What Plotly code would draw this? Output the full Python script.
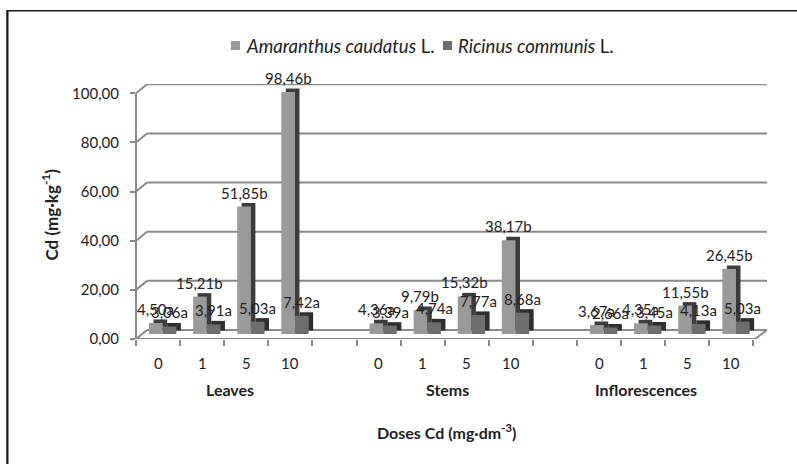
import plotly.graph_objects as go

# ---------------- data ----------------
groups = ["Leaves", "Stems", "Inflorescences"]
doses = ["0", "1", "5", "10"]
amaranthus = [4.50, 15.21, 51.85, 98.46, 4.36, 9.79, 15.32, 38.17, 3.67, 4.35, 11.55, 26.45]
amaranthus_letters = ["a", "b", "b", "b", "a", "b", "b", "b", "a", "a", "b", "b"]
ricinus = [3.06, 3.91, 5.03, 7.42, 3.39, 4.74, 7.77, 8.68, 2.66, 3.45, 4.13, 5.03]
ricinus_letters = ["a"] * 12
y_ticks = [0, 20, 40, 60, 80, 100]

# ---------------- layout geometry ----------------
W_FIG, H_FIG = 797, 464
PL, PT = 136, 84          # plot area left / top (px)
PW, PH = 631, 255         # plot area width / height (px)
SLOT_PX = 44.1
PX_PER_UNIT = 2.457
X_MIN = -0.5
X_MAX = X_MIN + PW / SLOT_PX
Y_MAX = PH / PX_PER_UNIT
DEPTH_X = 11 / PW                  # back wall offset (paper)
DEPTH_Y = 9 / PX_PER_UNIT          # back wall offset (data)
BASE = 5 / PX_PER_UNIT             # bars sit mid-depth on the floor
BAR_W = 0.31
SH_DX = 4.5 / SLOT_PX
SH_DY = 3.5 / PX_PER_UNIT

GRID = "#8a8a8a"
TXT = "#222222"
FONT = "Lato"


def pxx(px):
    return (px - PL) / PW


def pxy(py):
    return (PT + PH - py) / PH


def fmt(v):
    return f"{v:.2f}".replace(".", ",")


slots = [g * 5 + i for g in range(len(groups)) for i in range(len(doses))]

series = [
    dict(name="Amaranthus caudatus", vals=amaranthus, letters=amaranthus_letters,
         off=-0.205, front="#9a9a9a", side="#3c3c3c"),
    dict(name="Ricinus communis", vals=ricinus, letters=ricinus_letters,
         off=0.105, front="#6e6e6e", side="#2e2e2e"),
]

fig = go.Figure()
annotations = []
for s in series:
    fig.add_trace(go.Bar(
        x=slots, y=s["vals"], base=BASE + SH_DY, offset=s["off"] + SH_DX, width=BAR_W,
        marker=dict(color=s["side"], line=dict(width=0)), showlegend=False, hoverinfo="skip"))
    fig.add_trace(go.Bar(
        x=slots, y=s["vals"], base=BASE, offset=s["off"], width=BAR_W,
        marker=dict(color=s["front"], line=dict(width=0)), name=s["name"], showlegend=False))
    for xs, v, l in zip(slots, s["vals"], s["letters"]):
        annotations.append(dict(
            x=xs + s["off"] + BAR_W / 2, y=BASE + v, xref="x", yref="y",
            text=fmt(v) + l, showarrow=False, yanchor="bottom", yshift=3,
            font=dict(family=FONT, size=15, color=TXT)))

# dose tick labels and group labels
for xs, d in zip(slots, doses * len(groups)):
    annotations.append(dict(x=xs, y=pxy(363), xref="x", yref="paper", text=d,
                            showarrow=False, yanchor="middle",
                            font=dict(family=FONT, size=15, color=TXT)))
group_label_px = [204, 447, 699]
for gx, g in zip(group_label_px, groups):
    annotations.append(dict(x=pxx(gx), y=pxy(389), xref="paper", yref="paper",
                            text=f"<b>{g}</b>", showarrow=False, yanchor="middle",
                            font=dict(family=FONT, size=16, color=TXT)))

# axis titles
annotations.append(dict(x=pxx(446), y=pxy(434), xref="paper", yref="paper", yshift=-10,
                        text="<b>Doses Cd (mg·dm<sup>-3</sup>)</b>", showarrow=False,
                        font=dict(family=FONT, size=16, color=TXT)))
annotations.append(dict(x=pxx(55), y=pxy(215), xref="paper", yref="paper", xshift=-19,
                        text="<b>Cd (mg·kg<sup>-1</sup>)</b>", showarrow=False, textangle=-90,
                        font=dict(family=FONT, size=17, color=TXT)))

# legend
legend_items = [(231, 244, "<i>Amaranthus caudatus</i> L.", series[0]["front"]),
                (443, 456, "<i>Ricinus communis</i> L.", series[1]["front"])]
shapes = []
for mx, tx, label, col in legend_items:
    shapes.append(dict(type="rect", xref="paper", yref="paper",
                       x0=pxx(mx), x1=pxx(mx + 9), y0=pxy(50), y1=pxy(41),
                       fillcolor=col, line=dict(width=0)))
    annotations.append(dict(x=pxx(tx), y=pxy(46), xref="paper", yref="paper",
                            text=label, showarrow=False, xanchor="left", yanchor="middle",
                            font=dict(family=FONT, size=18.5, color=TXT)))

# 3D walls: back gridlines, left wall diagonals, front axis, floor
for v in y_ticks:
    shapes.append(dict(type="line", xref="paper", yref="y", x0=DEPTH_X, x1=1,
                       y0=v + DEPTH_Y, y1=v + DEPTH_Y, line=dict(color=GRID, width=2), layer="below"))
    shapes.append(dict(type="line", xref="paper", yref="y", x0=0, x1=DEPTH_X,
                       y0=v, y1=v + DEPTH_Y, line=dict(color=GRID, width=2), layer="below"))
shapes.append(dict(type="line", xref="paper", yref="y", x0=0, x1=0, y0=0, y1=y_ticks[-1],
                   line=dict(color=GRID, width=2), layer="below"))
shapes.append(dict(type="line", xref="paper", yref="y", x0=0, x1=pxx(755), y0=0, y1=0,
                   line=dict(color=GRID, width=2), layer="below"))
shapes.append(dict(type="line", xref="paper", yref="y", x0=pxx(755), x1=1, y0=0, y1=DEPTH_Y,
                   line=dict(color=GRID, width=2), layer="below"))

# outer chart border (cut off at right and bottom)
TOP_Y = (PT + PH - 10.5) / PX_PER_UNIT
shapes.append(dict(type="line", xref="paper", yref="y", x0=pxx(7), x1=pxx(800),
                   y0=TOP_Y, y1=TOP_Y, line=dict(color="#1a1a1a", width=2)))
shapes.append(dict(type="line", xref="paper", yref="paper", x0=pxx(7), x1=pxx(7),
                   y0=pxy(10), y1=pxy(470), line=dict(color="#1a1a1a", width=1.5)))
# same frame drawn as an empty bordered annotation box as well
annotations.append(dict(x=pxx(7), y=pxy(10), xref="paper", yref="paper",
                        xanchor="left", yanchor="top", text=" ", showarrow=False,
                        width=830, height=480, bordercolor="#1a1a1a", borderwidth=1.5,
                        borderpad=0, font=dict(size=4)))

fig.update_layout(
    width=W_FIG, height=H_FIG,
    margin=dict(l=PL, r=W_FIG - PL - PW, t=PT, b=H_FIG - PT - PH, pad=0),
    paper_bgcolor="white", plot_bgcolor="white",
    barmode="overlay", separators=",.",
    font=dict(family=FONT, size=15, color=TXT),
    xaxis=dict(range=[X_MIN, X_MAX], showgrid=False, zeroline=False, showline=False,
               tickvals=[k - 0.5 for k in range(15)], ticktext=[""] * 15,
               ticks="outside", ticklen=6, tickwidth=1.5, tickcolor=GRID),
    yaxis=dict(range=[0, Y_MAX], showgrid=False, zeroline=False, showline=False,
               tickvals=y_ticks, tickformat=".2f", ticks="outside", ticklen=5,
               tickwidth=2, tickcolor=GRID, ticklabelstandoff=8,
               tickfont=dict(family=FONT, size=15, color=TXT)),
    annotations=annotations, shapes=shapes, showlegend=False,
)

fig.write_html("out.html", config={"displayModeBar": False},
               post_script="document.body.style.margin='0px';document.body.style.overflow='hidden';")
